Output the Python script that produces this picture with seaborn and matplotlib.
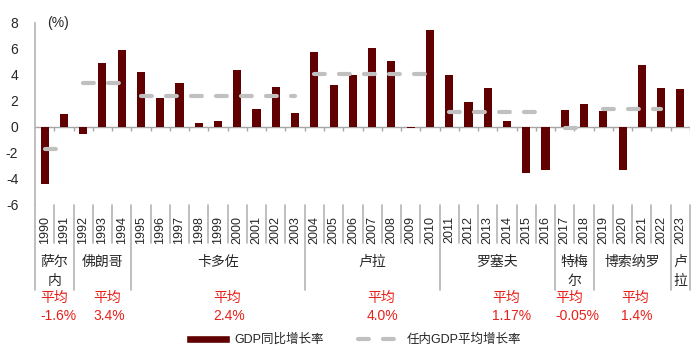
import numpy as np
import pandas as pd
import matplotlib
matplotlib.use('Agg')
import matplotlib.pyplot as plt
import matplotlib.transforms as mtransforms
from matplotlib.lines import Line2D
from matplotlib.patches import Patch
import seaborn as sns

# Dữ liệu: tăng trưởng GDP Brazil theo năm
years = list(range(1990, 2024))
gdp = [-4.4, 1.0, -0.5, 4.9, 5.9, 4.2, 2.2, 3.4, 0.3, 0.5,
       4.4, 1.4, 3.1, 1.1, 5.8, 3.2, 4.0, 6.1, 5.1, -0.1,
       7.5, 4.0, 1.9, 3.0, 0.5, -3.5, -3.3, 1.3, 1.8, 1.2,
       -3.3, 4.8, 3.0, 2.9]

# Nhiệm kỳ tổng thống
presidents = ['萨尔\n内', '佛朗哥', '卡多佐', '卢拉', '罗塞夫', '特梅\n尔', '博索纳罗', '卢\n拉']
term_start = [1990, 1992, 1995, 2004, 2011, 2017, 2019, 2023]
term_end = [1991, 1994, 2003, 2010, 2016, 2018, 2022, 2023]

# Đường trung bình trong nhiệm kỳ
avg_start = [1990, 1992, 1995, 2004, 2011, 2017, 2019]
avg_end = [1991, 1994, 2003, 2010, 2016, 2018, 2022]
avg_level = [-1.7, 3.4, 2.4, 4.1, 1.15, -0.05, 1.4]
avg_text = ['-1.6%', '3.4%', '2.4%', '4.0%', '1.17%', '-0.05%', '1.4%']

# Vị trí (trái) của nhãn trung bình, theo đơn vị danh mục
avg_label_x = [-0.24, 2.51, 8.74, 16.74, 23.23, 26.5, 29.93]

bar_color = '#600000'
line_color = '#c0c0c0'
grid_color = '#b4b4b4'
red = '#e8201a'
W, H = 700, 353

sns.set_style('white')
plt.rcParams['font.family'] = ['Liberation Sans', 'Noto Sans CJK SC']
plt.rcParams['axes.unicode_minus'] = False

fig = plt.figure(figsize=(W / 100, H / 100), dpi=100)
ax = fig.add_axes([35 / W, 1 - 205 / H, 655 / W, 182 / H])

df = pd.DataFrame({'year': [str(y) for y in years], 'gdp': gdp})
sns.barplot(data=df, x='year', y='gdp', color=bar_color, saturation=1,
            width=0.42, linewidth=0, ax=ax, zorder=3)

rows = []
for i, (s, e, lv) in enumerate(zip(avg_start, avg_end, avg_level)):
    for y in (s, e):
        rows.append({'x': years.index(y), 'y': lv, 'term': i})
ldf = pd.DataFrame(rows)
sns.lineplot(data=ldf, x='x', y='y', units='term', estimator=None,
             color=line_color, lw=3, linestyle=(0, (2.6, 3.4)),
             legend=False, ax=ax, zorder=4)
for ln in ax.lines:
    ln.set_dash_capstyle('round')

ax.set_xlim(-0.5, len(years) - 0.5)
ax.set_ylim(-6, 8)
ax.set_yticks(range(-6, 9, 2))
ax.set_xlabel('')
ax.set_ylabel('')
ax.tick_params(axis='y', length=0, pad=12, labelsize=10)
ax.set_xticks(range(len(years)))
ax.set_xticklabels([str(y) for y in years], rotation=90, fontsize=9)
ax.tick_params(axis='x', length=0, pad=8)

sns.despine(ax=ax, top=True, right=True, bottom=True)
ax.spines['left'].set_color(grid_color)
ax.spines['left'].set_linewidth(1.2)

# trục x tại 0 với vạch chia
ax.axhline(0, color='#a6a6a6', lw=1, zorder=2)
ax.vlines(np.arange(len(years)) + 0.5, -0.3, 0, color='#a6a6a6', lw=1, zorder=2)

ax.text(0.12, 8, '(%)', ha='left', va='center', fontsize=10)

# bảng nhãn phía dưới
trans = mtransforms.blended_transform_factory(ax.transData, fig.transFigure)
y_top = 1 - 205 / H
group_edges = [years.index(s) - 0.5 for s in term_start] + [len(years) - 0.5]
for b in np.arange(len(years) + 1) - 0.5:
    y_bot = 1 - (290 if b in group_edges else 243) / H
    ax.plot([b, b], [y_top, y_bot], transform=trans, color=grid_color,
            lw=1.2, clip_on=False)

for name, s, e in zip(presidents, term_start, term_end):
    xc = (years.index(s) + years.index(e)) / 2
    for k, part in enumerate(name.split('\n')):
        ax.text(xc, 1 - (262 + 19 * k) / H, part, transform=trans,
                ha='center', va='center', fontsize=10)

for x, t in zip(avg_label_x, avg_text):
    ax.text(x, 1 - 298 / H, '平均', transform=trans, ha='left',
            va='center', fontsize=10, color=red)
    ax.text(x, 1 - 316 / H, t, transform=trans, ha='left',
            va='center', fontsize=10, color=red)

handles = [Patch(facecolor=bar_color),
           Line2D([], [], color=line_color, lw=3, linestyle=(0, (2.6, 3.4)),
                  dash_capstyle='round')]
fig.legend(handles=handles, labels=['GDP同比增长率', '任内GDP平均增长率'],
           loc='center', bbox_to_anchor=(0.505, 1 - 340 / H), ncol=2,
           frameon=False, fontsize=9, handlelength=3.5, handleheight=0.55,
           columnspacing=2.7, handletextpad=0.4)

fig.savefig('out.png', dpi=100)
